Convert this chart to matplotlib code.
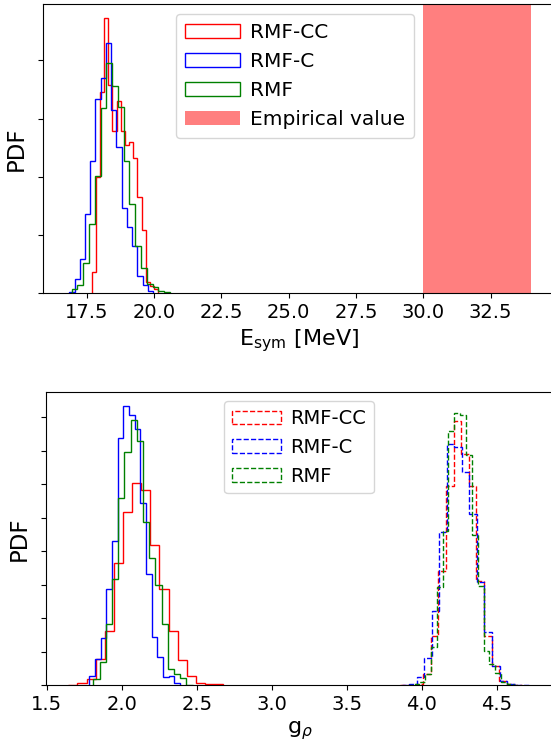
import numpy as np
import matplotlib
matplotlib.use("Agg")
import matplotlib.pyplot as plt
from matplotlib.ticker import MultipleLocator

# ---------------- data ----------------
labels = ["RMF-CC", "RMF-C", "RMF"]
colors = ["red", "blue", "green"]

# Top panel: E_sym histograms (density), bin range (lo, hi) and bin heights
esym_cc_range = (17.682, 20.149)
esym_cc = [0.073, 0.399, 0.693, 0.947, 0.717, 0.559, 0.660, 0.556, 0.510, 0.521,
           0.466, 0.329, 0.217, 0.039, 0.024, 0.014]
esym_c_range = (16.850, 19.959)
esym_c = [0.005, 0.047, 0.116, 0.271, 0.453, 0.669, 0.740, 0.860, 0.631, 0.504,
          0.294, 0.227, 0.160, 0.057, 0.028, 0.007]
esym_r_range = (16.939, 20.589)
esym_r = [0.013, 0.028, 0.102, 0.237, 0.403, 0.637, 0.792, 0.711, 0.639, 0.455,
          0.306, 0.162, 0.086, 0.031, 0.020, 0.007, 0.002]
empirical_range = (30.0, 34.0)

# Bottom panel: g_rho histograms, low solution (solid) and high solution (dashed)
grho_lo_cc_range = (1.644, 2.676)
grho_lo_cc = [0.010, 0.030, 0.090, 0.388, 0.816, 1.821, 2.593, 3.015, 2.915, 2.090,
              1.437, 0.810, 0.378, 0.139, 0.040, 0.019, 0.015]
grho_lo_c_range = (1.784, 2.389)
grho_lo_c = [0.139, 0.388, 0.710, 1.433, 2.158, 3.696, 4.173, 4.034, 3.821, 2.716,
             1.661, 0.725, 0.427, 0.119, 0.139, 0.039]
grho_lo_r_range = (1.811, 2.472)
grho_lo_r = [0.097, 0.352, 0.910, 1.582, 2.800, 3.487, 3.960, 3.651, 2.433, 1.904,
             1.497, 0.910, 0.239, 0.169, 0.104, 0.009]

grho_hi_cc_range = (3.857, 4.668)
grho_hi_cc = [0.006, 0.010, 0.025, 0.170, 0.742, 1.712, 2.981, 3.951, 3.454, 2.981,
              1.563, 0.734, 0.287, 0.070, 0.025, 0.006]
grho_hi_c_range = (3.865, 4.720)
grho_hi_c = [0.010, 0.025, 0.130, 0.409, 1.115, 2.284, 3.603, 3.552, 3.190, 2.558,
             1.537, 0.791, 0.294, 0.070, 0.025, 0.010, 0.005]
grho_hi_r_range = (3.905, 4.646)
grho_hi_r = [0.004, 0.018, 0.055, 0.170, 0.578, 1.463, 2.299, 3.801, 4.066, 4.036,
             3.443, 2.249, 1.488, 0.518, 0.324, 0.179, 0.055, 0.018, 0.006]

esym_xticks = [17.5, 20.0, 22.5, 25.0, 27.5, 30.0, 32.5]
grho_xticks = [1.5, 2.0, 2.5, 3.0, 3.5, 4.0, 4.5]


def step_hist(ax, rng, heights, **kw):
    edges = np.linspace(rng[0], rng[1], len(heights) + 1)
    centers = 0.5 * (edges[:-1] + edges[1:])
    ax.hist(centers, bins=edges, weights=heights, histtype="step", **kw)


plt.rcParams["font.family"] = "DejaVu Sans"

W, H = 551, 745
fig = plt.figure(figsize=(W / 100, H / 100), dpi=100)

# axes run slightly past the right border of the picture (cropped like the reference)
R1, R2 = 555.3, 554.0

# ---------------- top panel ----------------
ax1 = fig.add_axes([42.7 / W, (H - 293) / H, (R1 - 42.7) / W, 289 / H])
step_hist(ax1, esym_cc_range, esym_cc, color=colors[0], label=labels[0])
step_hist(ax1, esym_c_range, esym_c, color=colors[1], label=labels[1])
step_hist(ax1, esym_r_range, esym_r, color=colors[2], label=labels[2])
ax1.axvspan(*empirical_range, color="red", alpha=0.5, lw=0, label="Empirical value")
ax1.set_xlim(15.862, 15.862 + (R1 - 42.7) / 26.92)
ax1.set_xticks(esym_xticks)
ax1.yaxis.set_major_locator(MultipleLocator(0.2))
ax1.set_yticklabels([])
ax1.tick_params(axis="x", labelsize=14)
ax1.set_xlabel(r"E$_{\rm sym}$ [MeV]", fontsize=16)
ax1.set_ylabel("PDF", fontsize=16.5)
ax1.spines["right"].set_visible(False)
ax1.legend(loc="upper center", bbox_to_anchor=((295.0 - 42.7) / (R1 - 42.7), 1.0),
           fontsize=14.5, handlelength=2.75, handletextpad=0.5, borderpad=0.45)

# ---------------- bottom panel ----------------
ax2 = fig.add_axes([45.7 / W, (H - 685.3) / H, (R2 - 45.7) / W, 293.6 / H])
step_hist(ax2, grho_lo_cc_range, grho_lo_cc, color=colors[0])
step_hist(ax2, grho_lo_c_range, grho_lo_c, color=colors[1])
step_hist(ax2, grho_lo_r_range, grho_lo_r, color=colors[2])
step_hist(ax2, grho_hi_cc_range, grho_hi_cc, color=colors[0], ls="--", label=labels[0])
step_hist(ax2, grho_hi_c_range, grho_hi_c, color=colors[1], ls="--", label=labels[1])
step_hist(ax2, grho_hi_r_range, grho_hi_r, color=colors[2], ls="--", label=labels[2])
ax2.set_xlim(1.493, 1.493 + (R2 - 45.7) / 150.0)
ax2.set_xticks(grho_xticks)
ax2.yaxis.set_major_locator(MultipleLocator(0.5))
ax2.set_yticklabels([])
ax2.tick_params(axis="x", labelsize=14)
ax2.set_xlabel(r"g$_{\rho}$", fontsize=16)
ax2.set_ylabel("PDF", fontsize=16.5)
ax2.spines["right"].set_visible(False)
ax2.legend(loc="upper center", bbox_to_anchor=((299.0 - 45.7) / (R2 - 45.7), 1.0),
           fontsize=14, handlelength=2.5, handletextpad=0.5)

fig.savefig("out.png", dpi=100)
